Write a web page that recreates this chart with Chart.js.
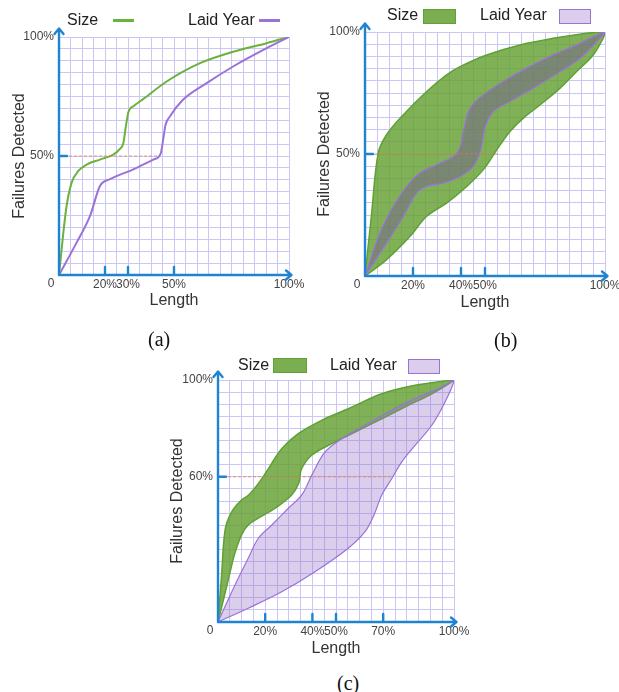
<!DOCTYPE html>
<html><head><meta charset="utf-8">
<script src="https://cdn.jsdelivr.net/npm/chart.js@4.4.1/dist/chart.umd.min.js"></script>
<style>
html,body{margin:0;padding:0;overflow:hidden;background:#fff;}
body{width:619px;height:692px;position:relative;font-family:"Liberation Sans",Arial,sans-serif;}
canvas{position:absolute;}
.t{position:absolute;font-size:16px;line-height:18px;color:#222;white-space:nowrap;}
.cap{position:absolute;font-family:"Liberation Serif","Times New Roman",serif;font-size:20px;line-height:20px;color:#111;}
.sw{position:absolute;box-sizing:border-box;}
</style></head><body>
<canvas id="ca" width="309" height="315" style="left:0;top:0"></canvas>
<canvas id="cb" width="320" height="315" style="left:310px;top:0"></canvas>
<canvas id="cc" width="320" height="320" style="left:160px;top:345px"></canvas>

<div class="t" style="left:67px;top:11px">Size</div>
<div class="sw" style="left:113px;top:19px;width:21px;height:3px;background:#6ab23c"></div>
<div class="t" style="left:188px;top:11px">Laid Year</div>
<div class="sw" style="left:259px;top:19px;width:21px;height:3px;background:#9b72d8"></div>

<div class="t" style="left:387px;top:6px">Size</div>
<div class="sw" style="left:423px;top:9px;width:33px;height:15px;background:rgba(100,160,50,0.85);border:1px solid #5ea232"></div>
<div class="t" style="left:480px;top:6px">Laid Year</div>
<div class="sw" style="left:559px;top:9px;width:32px;height:15px;background:rgba(150,115,200,0.35);border:1px solid #9b72d8"></div>

<div class="t" style="left:238px;top:356px">Size</div>
<div class="sw" style="left:273px;top:358px;width:34px;height:15px;background:rgba(100,160,50,0.85);border:1px solid #5ea232"></div>
<div class="t" style="left:330px;top:356px">Laid Year</div>
<div class="sw" style="left:408px;top:359px;width:32px;height:15px;background:rgba(150,115,200,0.35);border:1px solid #9b72d8"></div>

<div class="cap" style="left:148px;top:329px">(a)</div>
<div class="cap" style="left:494px;top:330px">(b)</div>
<div class="cap" style="left:337px;top:673px">(c)</div>

<script>
// ---------- data (percent of length, percent of failures detected) ----------
const xTicksA = [20, 30, 50, 100];
const yTicksA = [50, 100];
const xTicksB = [20, 40, 50, 100];
const yTicksB = [50, 100];
const xTicksC = [20, 40, 50, 70, 100];
const yTicksC = [60, 100];

// (a) lines
const sizeA = [[0,0],[1.9,17.9],[3.3,29],[5.5,38.8],[8.4,43.7],[12,46.4],[17.8,48.5],[23.6,50.6],[26.5,53],[28,55.5],[29,62],[30.2,68.5],[32.5,71],[36.7,74],[46.8,81.3],[61.3,89],[75.7,93.8],[90.3,97.4],[100,100]];
const laidYearA = [[0,0],[7.7,13.7],[13.5,24.8],[17.8,37.4],[22.2,40.3],[32.3,44.4],[41,48.5],[44.2,51],[45.3,57],[46.3,63],[48.3,66.7],[53.9,73.6],[64.2,80.6],[75.7,87.6],[90.3,95.3],[100,100]];
const refA = [[0,50],[43,50]];

// (b) bands
const sizeUpperB = [[0,0],[2.7,25],[5.5,50.4],[9,57.9],[16,66.1],[25.7,75.6],[34,82.4],[39.6,85.8],[50.7,90.6],[64.6,94.7],[78.5,97.4],[92.4,99.5],[100,100]];
const sizeLowerB = [[0,0],[9,6.7],[18.8,16.3],[25.7,24.5],[34,29.9],[42.4,36.7],[49.3,43.6],[54.9,51.7],[60.4,59.2],[66,64.7],[72.9,70.1],[81.3,77],[88.2,83.8],[95.1,90.6],[99,97],[100,100]];
const laidUpperB = [[0,0],[6.3,17.7],[11.8,28.5],[17.4,36.7],[22.9,42.2],[29.9,45.6],[36.8,49],[39.6,52.6],[41,59.2],[43.8,68.8],[49.3,74.2],[57.6,79.7],[67.4,85.2],[78.5,90.6],[88.2,94.7],[95.1,98.1],[100,100]];
const laidLowerB = [[0,0],[9,13.6],[16,24.5],[21.5,34],[25.7,36.7],[32.6,38.1],[39.6,40.8],[45.1,44.9],[48.3,52],[50,61],[53.5,67.4],[60.4,71.5],[70.1,77],[81.3,83.8],[89.6,89.2],[96.5,96],[100,100]];
const refB = [[0,50],[56,50]];

// (c) bands
const sizeUpperC = [[0,0],[1.5,19],[3,38],[5.5,45],[9.5,50],[13,52.5],[17.3,57.5],[21.3,63.3],[27,71.6],[34,77.8],[43.9,83.3],[55.2,88.1],[69.4,94.3],[83.5,97.8],[97.6,99.8],[100,100]];
const sizeLowerC = [[0,0],[4.5,18],[7,28],[10,36],[12.8,40.1],[17.1,42.9],[24.2,47],[31.2,52.5],[34.3,57.5],[35.3,63],[39.7,68.9],[48.2,73.7],[58.1,78.5],[69.4,84],[80.6,89.5],[90.6,94.3],[100,100]];
const laidUpperC = [[0,0],[7.2,15.3],[12.8,26.3],[17.1,34.6],[22.8,40.1],[29.8,47],[35.5,52.5],[39.7,60.6],[45.3,70.2],[52.4,75.7],[62.3,81.3],[72.2,86.8],[83.5,92.3],[94.8,97.1],[100,100]];
const laidLowerC = [[0,0],[12.8,5.7],[27,12.5],[41.1,20.8],[55.2,30.5],[62.3,37.3],[66,44],[69.4,52.5],[73.6,59.2],[77.8,66.1],[83.5,73],[90.6,81.3],[96.2,90.9],[100,100]];
const refC = [[0,60],[73.6,60]];

// ---------- styles ----------
const FONT = "'Liberation Sans', Arial, sans-serif";
const GRID = '#cbc6f3';
const GREEN = '#6ab23c', GREEN_EDGE = '#5ea232', PURPLE = '#9b72d8';
const GREEN_FILL = 'rgba(100,160,50,0.82)';
const REF = 'rgba(232,120,80,0.75)';

const pts = a => a.map(([x, y]) => ({x, y}));
const shape = (up, lo) => pts(up.concat(lo.slice(0, -1).reverse()));

const axisDeco = {
  id: 'axisDeco',
  afterDraw(chart, args, o) {
    const {ctx, chartArea: {left, right, top, bottom}, scales: {x, y}} = chart;
    ctx.save();
    ctx.strokeStyle = '#1f83d4'; ctx.lineWidth = 2.4; ctx.lineCap = 'round'; ctx.lineJoin = 'round';
    ctx.beginPath();
    ctx.moveTo(left, bottom); ctx.lineTo(left, top - 8);
    ctx.moveTo(left - 4.5, top - 3); ctx.lineTo(left, top - 8.5); ctx.lineTo(left + 4.5, top - 3);
    ctx.moveTo(left, bottom); ctx.lineTo(right + 2, bottom);
    ctx.moveTo(right - 3, bottom - 4.5); ctx.lineTo(right + 2.5, bottom); ctx.lineTo(right - 3, bottom + 4.5);
    for (const v of o.xMarks) { const p = x.getPixelForValue(v); ctx.moveTo(p, bottom); ctx.lineTo(p, bottom - 8); }
    for (const v of o.yMarks) { const p = y.getPixelForValue(v); ctx.moveTo(left, p); ctx.lineTo(left + 8, p); }
    ctx.stroke();
    ctx.fillStyle = '#444'; ctx.font = '12px ' + FONT; ctx.textAlign = 'center'; ctx.textBaseline = 'middle';
    ctx.fillText('0', left - 8, bottom + 9);
    ctx.restore();
  }
};

function scales(xt, yt, d) {
  const tick = list => v => list.includes(v) ? v + '%' : '';
  return {
    x: {type: 'linear', min: 0, max: 100, border: {display: false},
        grid: {color: GRID, lineWidth: 1, drawTicks: false},
        ticks: {stepSize: 5, autoSkip: false, maxRotation: 0, padding: d.xp, color: '#444', font: {family: FONT, size: 12}, callback: tick(xt)},
        title: {display: true, text: 'Length', color: '#333', font: {family: FONT, size: 16}, padding: {top: 0, bottom: d.xtb}},
        afterFit: s => { s.height = d.xh; }},
    y: {type: 'linear', min: 0, max: 100, border: {display: false},
        grid: {color: GRID, lineWidth: 1, drawTicks: false},
        ticks: {stepSize: 5, autoSkip: false, padding: 5, color: '#444', font: {family: FONT, size: 12}, callback: tick(yt)},
        title: {display: true, text: 'Failures Detected', color: '#333', font: {family: FONT, size: 16}, padding: {top: d.ytt, bottom: 0}},
        afterFit: s => { s.width = d.yw; }}
  };
}

function opts(pad, xt, yt, d, deco) {
  return {
    responsive: false, animation: false, events: [],
    layout: {padding: pad},
    plugins: {legend: {display: false}, tooltip: {enabled: false}, axisDeco: deco},
    scales: scales(xt, yt, d),
    elements: {point: {radius: 0}}
  };
}

const refDs = data => ({label: 'ref', data: pts(data), borderColor: REF, borderWidth: 1, borderDash: [3, 2], pointRadius: 0, fill: false});

new Chart(document.getElementById('ca'), {
  type: 'line',
  data: {datasets: [
    refDs(refA),
    {label: 'Laid Year', data: pts(laidYearA), borderColor: PURPLE, borderWidth: 2, pointRadius: 0, cubicInterpolationMode: 'monotone', fill: false},
    {label: 'Size', data: pts(sizeA), borderColor: GREEN, borderWidth: 2, pointRadius: 0, cubicInterpolationMode: 'monotone', fill: false}
  ]},
  options: opts({left: 0, top: 37, right: 20, bottom: 0}, xTicksA, yTicksA, {xh: 40, xp: 2, xtb: 4.4, yw: 59, ytt: 9.7}, {xMarks: [20, 30, 50], yMarks: [50]}),
  plugins: [axisDeco]
});

new Chart(document.getElementById('cb'), {
  type: 'line',
  data: {datasets: [
    refDs(refB),
    {label: 'Laid Year', data: shape(laidUpperB, laidLowerB), fill: 'shape', backgroundColor: 'rgba(115,85,150,0.45)', borderColor: PURPLE, borderWidth: 1.3, tension: 0.35, pointRadius: 0},
    {label: 'Size', data: shape(sizeUpperB, sizeLowerB), fill: 'shape', backgroundColor: GREEN_FILL, borderColor: GREEN_EDGE, borderWidth: 1.5, tension: 0.35, pointRadius: 0}
  ]},
  options: opts({left: 0, top: 32, right: 25, bottom: 0}, xTicksB, yTicksB, {xh: 39, xp: 2, xtb: 2.4, yw: 55, ytt: 5.4}, {xMarks: [20, 40, 50], yMarks: [50]}),
  plugins: [axisDeco]
});

new Chart(document.getElementById('cc'), {
  type: 'line',
  data: {datasets: [
    refDs(refC),
    {label: 'Laid Year', data: shape(laidUpperC, laidLowerC), fill: 'shape', backgroundColor: 'rgba(150,115,200,0.35)', borderColor: PURPLE, borderWidth: 1.2, tension: 0.35, pointRadius: 0},
    {label: 'Size', data: shape(sizeUpperC, sizeLowerC), fill: 'shape', backgroundColor: GREEN_FILL, borderColor: GREEN_EDGE, borderWidth: 1.5, tension: 0.35, pointRadius: 0}
  ]},
  options: opts({left: 0, top: 35, right: 26, bottom: 0}, xTicksC, yTicksC, {xh: 43, xp: 2, xtb: 6.4, yw: 58, ytt: 8.4}, {xMarks: [20, 40, 50, 70], yMarks: [60]}),
  plugins: [axisDeco]
});
</script>
</body></html>
